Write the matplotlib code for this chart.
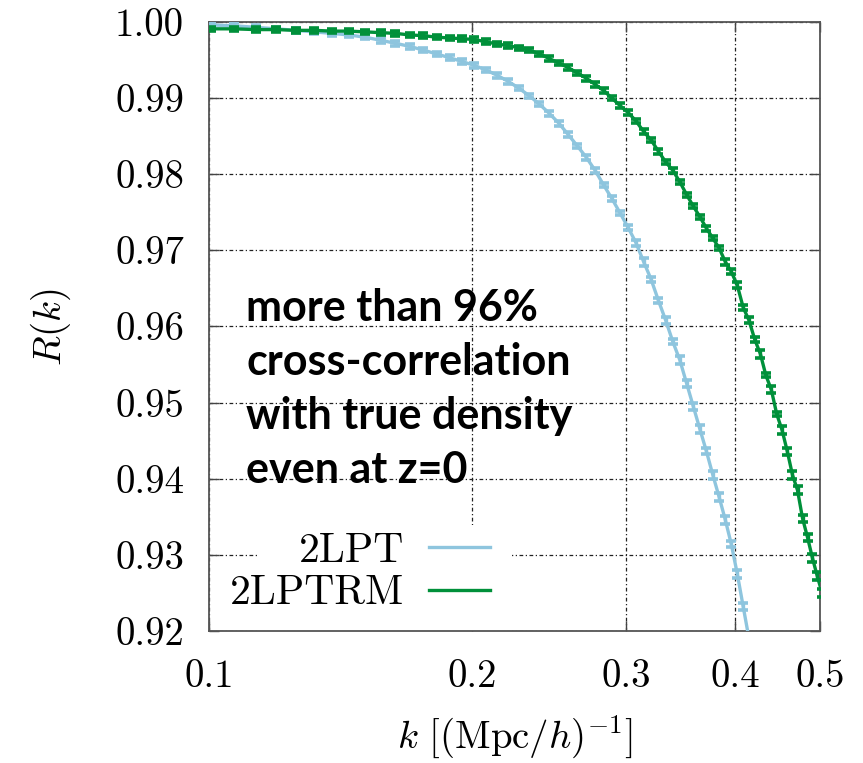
import matplotlib.pyplot as plt
from matplotlib.lines import Line2D
from matplotlib.patches import Rectangle
from matplotlib.ticker import NullLocator

# wavenumbers of the bins, k [(Mpc/h)^-1]
k_vals = [0.1005, 0.1068, 0.1131, 0.1194, 0.1257, 0.1319, 0.1382, 0.1445, 0.1508, 0.1571,
          0.1634, 0.1696, 0.1759, 0.1822, 0.1885, 0.1948, 0.2011, 0.2073, 0.2136, 0.2199,
          0.2262, 0.2325, 0.2388, 0.2450, 0.2513, 0.2576, 0.2639, 0.2702, 0.2765, 0.2827,
          0.2890, 0.2953, 0.3016, 0.3079, 0.3142, 0.3204, 0.3267, 0.3330, 0.3393, 0.3456,
          0.3519, 0.3581, 0.3644, 0.3707, 0.3770, 0.3833, 0.3896, 0.3958, 0.4021, 0.4084,
          0.4147, 0.4210, 0.4273, 0.4335, 0.4398, 0.4461, 0.4524, 0.4587, 0.4650, 0.4712,
          0.4775, 0.4838, 0.4901, 0.4964, 0.5027]

r_2lpt = [0.9996, 0.9995, 0.9993, 0.9991, 0.9989, 0.9987, 0.9985, 0.9983, 0.9980, 0.9976,
          0.9972, 0.9968, 0.9963, 0.9958, 0.9953, 0.9948, 0.9943, 0.9937, 0.9930, 0.9922,
          0.9913, 0.9903, 0.9892, 0.9880, 0.9867, 0.9852, 0.9837, 0.9822, 0.9805, 0.9786,
          0.9768, 0.9749, 0.9730, 0.9710, 0.9685, 0.9662, 0.9634, 0.9608, 0.9580, 0.9556,
          0.9525, 0.9495, 0.9465, 0.9436, 0.9405, 0.9376, 0.9346, 0.9314, 0.9275, 0.9232,
          0.9190, 0.9150]
err_2lpt = [0.0003, 0.0003, 0.0003, 0.0003, 0.0003, 0.0003, 0.0003, 0.0003, 0.0003, 0.0003,
            0.0003, 0.0003, 0.0003, 0.0003, 0.0003, 0.0003, 0.0003, 0.0003, 0.0003, 0.0003,
            0.0003, 0.0003, 0.0003, 0.0003, 0.0003, 0.0003, 0.0003, 0.0003, 0.0003, 0.0003,
            0.0003, 0.0003, 0.0003, 0.0004, 0.0005, 0.0003, 0.0003, 0.0005, 0.0003, 0.0005,
            0.0005, 0.0005, 0.0005, 0.0004, 0.0005, 0.0005, 0.0005, 0.0004, 0.0005, 0.0005,
            0.0005, 0.0005]

r_2lptrm = [0.9991, 0.9991, 0.9990, 0.9990, 0.9989, 0.9989, 0.9988, 0.9988, 0.9987, 0.9986,
            0.9985, 0.9983, 0.9982, 0.9980, 0.9979, 0.9978, 0.9977, 0.9974, 0.9971, 0.9969,
            0.9966, 0.9963, 0.9958, 0.9952, 0.9946, 0.9940, 0.9933, 0.9926, 0.9918, 0.9910,
            0.9900, 0.9890, 0.9881, 0.9870, 0.9856, 0.9845, 0.9830, 0.9816, 0.9805, 0.9790,
            0.9773, 0.9758, 0.9744, 0.9729, 0.9716, 0.9703, 0.9685, 0.9672, 0.9654, 0.9625,
            0.9608, 0.9583, 0.9564, 0.9536, 0.9517, 0.9485, 0.9464, 0.9436, 0.9405, 0.9385,
            0.9348, 0.9323, 0.9296, 0.9272, 0.9250]
err_2lptrm = [0.0003, 0.0003, 0.0003, 0.0003, 0.0003, 0.0003, 0.0003, 0.0003, 0.0003, 0.0003,
              0.0003, 0.0003, 0.0003, 0.0003, 0.0003, 0.0003, 0.0003, 0.0003, 0.0003, 0.0003,
              0.0003, 0.0003, 0.0003, 0.0003, 0.0003, 0.0003, 0.0003, 0.0003, 0.0003, 0.0003,
              0.0003, 0.0003, 0.0003, 0.0003, 0.0003, 0.0003, 0.0003, 0.0003, 0.0003, 0.0003,
              0.0003, 0.0003, 0.0003, 0.0003, 0.0003, 0.0003, 0.0004, 0.0003, 0.0004, 0.0003,
              0.0004, 0.0003, 0.0005, 0.0003, 0.0005, 0.0003, 0.0005, 0.0005, 0.0005, 0.0005,
              0.0005, 0.0005, 0.0005, 0.0005, 0.0005]

x_ticks = [0.1, 0.2, 0.3, 0.4, 0.5]
x_tick_labels = ['0.1', '0.2', '0.3', '0.4', '0.5']
y_ticks = [0.92, 0.93, 0.94, 0.95, 0.96, 0.97, 0.98, 0.99, 1.00]
y_tick_labels = ['0.92', '0.93', '0.94', '0.95', '0.96', '0.97', '0.98', '0.99', '1.00']

note_lines = ['more than 96%', 'cross-correlation', 'with true density', 'even at z=0']

c_blue = '#8ec5de'
c_green = '#00903a'

plt.rcParams['font.family'] = 'cmr10'
plt.rcParams['mathtext.fontset'] = 'cm'
plt.rcParams['axes.unicode_minus'] = False

fig = plt.figure(figsize=(8.63, 7.63), dpi=100)
ax = fig.add_axes([0.2422, 0.1730, 0.7080, 0.7982])

ax.set_xscale('log')
ax.set_xlim(0.1, 0.5)
ax.set_ylim(0.92, 1.0)

ax.set_axisbelow(True)
ax.grid(True, color='#222222', lw=0.9, linestyle=(0, (3, 2, 1, 2)))

ax.errorbar(k_vals[:len(r_2lpt)], r_2lpt, yerr=err_2lpt, color=c_blue, lw=2.4,
            elinewidth=2.4, capsize=3.8, capthick=2.6, zorder=3)
ax.errorbar(k_vals[:len(r_2lptrm)], r_2lptrm, yerr=err_2lptrm, color=c_green, lw=2.4,
            elinewidth=2.4, capsize=3.8, capthick=2.6, zorder=4)

ax.set_xticks(x_ticks, labels=x_tick_labels)
ax.xaxis.set_minor_locator(NullLocator())
ax.set_yticks(y_ticks, labels=y_tick_labels)
ax.tick_params(direction='in', length=7, width=1.0, top=True, right=True,
               labelsize=28, color='#444444')
ax.tick_params(axis='x', pad=20)
ax.tick_params(axis='y', pad=18)
for s in ax.spines.values():
    s.set_color('#555555')
    s.set_linewidth(1.3)

ax.set_ylabel(r'$R(k)$', fontsize=28, labelpad=30)
ax.set_xlabel(r'$k\ [(\mathrm{Mpc}/h)^{-1}]$', fontsize=28, labelpad=14)

# opaque key box (narrower than the key text, as in the original)
ax.add_patch(Rectangle((0.079, 0.0), 0.417, 0.174, transform=ax.transAxes,
                       facecolor='white', edgecolor='none', zorder=1.5))

handles = [Line2D([], [], color=c_blue, lw=2.4), Line2D([], [], color=c_green, lw=2.4)]
leg = ax.legend(handles, ['2LPT', '2LPTRM'], loc='lower right', bbox_to_anchor=(0.49, 0.0),
                borderaxespad=0, markerfirst=False, fontsize=30, handlelength=1.45,
                handletextpad=0.6, labelspacing=0.12, frameon=False, borderpad=0.45)
leg.set_zorder(5)

note_base = [321, 375, 429, 483]
for line, yp in zip(note_lines, note_base):
    fig.text(246 / 863, 1 - yp / 763, line, family='Lato', fontweight='bold',
             fontsize=31, va='baseline', ha='left', color='black')

fig.savefig('out.png', dpi=100)
